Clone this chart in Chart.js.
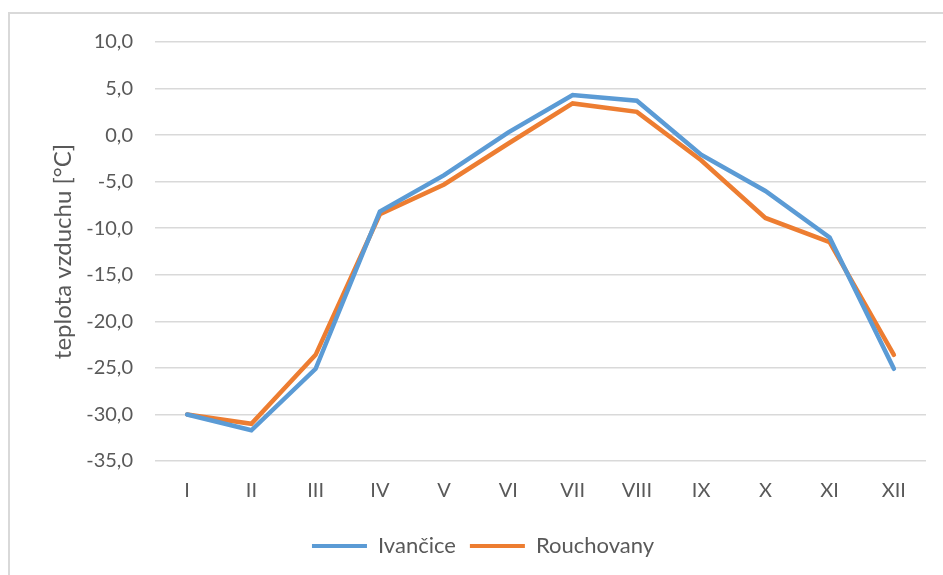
<!DOCTYPE html>
<html>
<head>
<meta charset="utf-8">
<script src="https://cdn.jsdelivr.net/npm/chart.js@4"></script>
<style>
html,body{margin:0;padding:0;background:#fff;}
#wrap{position:relative;width:943px;height:575px;overflow:hidden;}
#frame{position:absolute;left:8px;top:12px;width:1000px;height:700px;border:2px solid #d9d9d9;box-sizing:border-box;}
canvas{position:absolute;left:0;top:0;}
</style>
</head>
<body>
<div id="wrap"><div id="frame"></div><canvas id="c" width="943" height="575"></canvas></div>
<script>
const categories = ['I','II','III','IV','V','VI','VII','VIII','IX','X','XI','XII'];
const ivancice = [-30.0, -31.7, -25.1, -8.2, -4.3, 0.3, 4.3, 3.7, -2.1, -6.0, -11.0, -25.1];
const rouchovany = [-30.0, -31.0, -23.6, -8.5, -5.3, -0.9, 3.4, 2.5, -2.7, -8.9, -11.5, -23.6];
const seriesNames = ['Ivančice', 'Rouchovany'];
const yTitle = 'teplota vzduchu [°C]';

const FONT = 'Lato, "Open Sans", sans-serif';
const GRAY = '#595959';

new Chart(document.getElementById('c'), {
  type: 'line',
  data: {
    labels: categories,
    datasets: [
      { label: seriesNames[0], data: ivancice, borderColor: '#5B9BD5', backgroundColor: '#5B9BD5', borderWidth: 4.5, pointRadius: 0, tension: 0, borderCapStyle: 'round', borderJoinStyle: 'miter' },
      { label: seriesNames[1], data: rouchovany, borderColor: '#ED7D31', backgroundColor: '#ED7D31', borderWidth: 4.5, pointRadius: 0, tension: 0, borderCapStyle: 'round', borderJoinStyle: 'miter' }
    ]
  },
  options: {
    responsive: false,
    animation: false,
    devicePixelRatio: 1,
    layout: { padding: { left: 40, right: 17, top: 42, bottom: 8 } },
    plugins: {
      tooltip: { enabled: false },
      legend: {
        position: 'bottom',
        labels: {
          boxWidth: 55, boxHeight: 4,
          padding: 14,
          color: GRAY,
          font: { family: FONT, size: 22 },
          generateLabels(chart) {
            return chart.data.datasets.map((d, i) => ({
              text: d.label, fillStyle: d.borderColor, strokeStyle: d.borderColor,
              lineWidth: 0, hidden: false, datasetIndex: i, fontColor: GRAY
            }));
          }
        }
      }
    },
    scales: {
      x: {
        offset: true,
        grid: { display: false, drawTicks: false },
        border: { display: false },
        ticks: { color: GRAY, font: { family: FONT, size: 20 }, padding: 18, maxRotation: 0 }
      },
      y: {
        min: -35, max: 10,
        afterFit(s) { s.width = 115; },
        grid: { color: '#d9d9d9', lineWidth: 1.5, drawTicks: false },
        border: { display: false },
        ticks: {
          stepSize: 5, color: GRAY, padding: 22,
          font: { family: FONT, size: 20 },
          callback: v => v.toFixed(1).replace('.', ',')
        },
        title: { display: true, text: yTitle, color: GRAY, font: { family: FONT, size: 24 }, padding: { top: 9, bottom: 0 } }
      }
    }
  }
});
</script>
</body>
</html>
